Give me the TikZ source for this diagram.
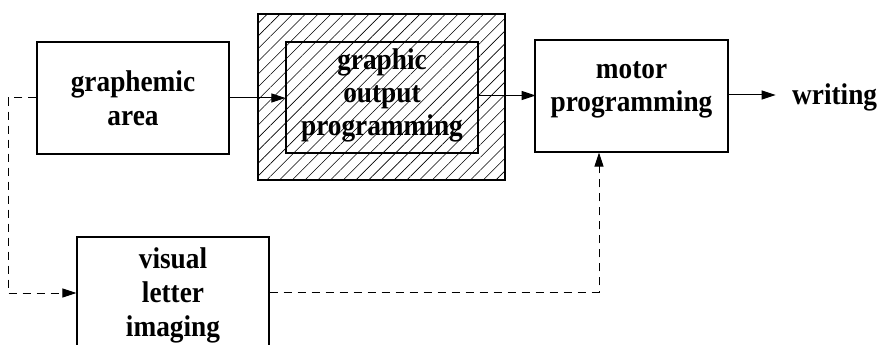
\documentclass[tikz,border=0pt]{standalone}
\usepackage{fontspec}
\setmainfont{Liberation Serif}[FakeStretch=0.91]
\usetikzlibrary{arrows.meta,patterns.meta}
\tikzset{
  blk/.style={draw=black, line width=1.2pt, rectangle, inner sep=0pt},
  lbl/.style={anchor=base, inner sep=0pt, font=\bfseries\fontsize{30}{34}\selectfont},
  conn/.style={line width=1pt, -{Triangle[length=14pt,width=9pt]}},
  dconn/.style={conn, dash pattern=on 8pt off 6pt},
}
\begin{document}
\begin{tikzpicture}[x=1pt,y=-1pt]
\useasboundingbox (0,0) rectangle (879,345);
\clip (0,0) rectangle (879,345);
% boxes
\node[blk, minimum width=192pt, minimum height=112pt] (gra) at (133,98) {};
\node[blk, minimum width=247pt, minimum height=166pt,
      pattern={Lines[angle=45,distance=9pt,line width=0.6pt]}] (outer) at (381.5,97) {};
\node[blk, minimum width=192pt, minimum height=111pt] (inner) at (382,97.5) {};
\node[blk, minimum width=193pt, minimum height=112pt] (motor) at (631.5,96) {};
\node[blk, minimum width=192pt, minimum height=140pt] (vis) at (173,307) {};
% texts
\node[lbl] (tgra) at (133,92) {\begin{tabular}[t]{@{}c@{}}graphemic\\area\end{tabular}};
\node[lbl, font=\bfseries\fontsize{30}{33}\selectfont] (tinner) at (382,70) {\begin{tabular}[t]{@{}c@{}}graphic\\output\\programming\end{tabular}};
\node[lbl] (tmotor) at (631.5,78) {\begin{tabular}[t]{@{}c@{}}motor\\programming\end{tabular}};
\node[lbl] (tvis) at (173,268) {\begin{tabular}[t]{@{}c@{}}visual\\letter\\imaging\end{tabular}};
\node[lbl, anchor=base west] (writing) at (792,105) {writing};
% connectors
\draw[conn] (gra.east) -- (gra.east -| inner.west);
\draw[conn] (inner.east) ++(0,-2) -- ++(57,0) coordinate (m1);
\draw[conn] (motor.east) ++(0,-1) -- ++(47,0) coordinate (w1);
\coordinate (c1) at (8,293);
\draw[dconn] (gra.west) -| (c1) -- (c1 -| vis.west);
\coordinate (c2) at (599,292);
\draw[dconn] (c2 -| vis.east) -- (c2) -- (c2 |- motor.south);
\end{tikzpicture}
\end{document}
